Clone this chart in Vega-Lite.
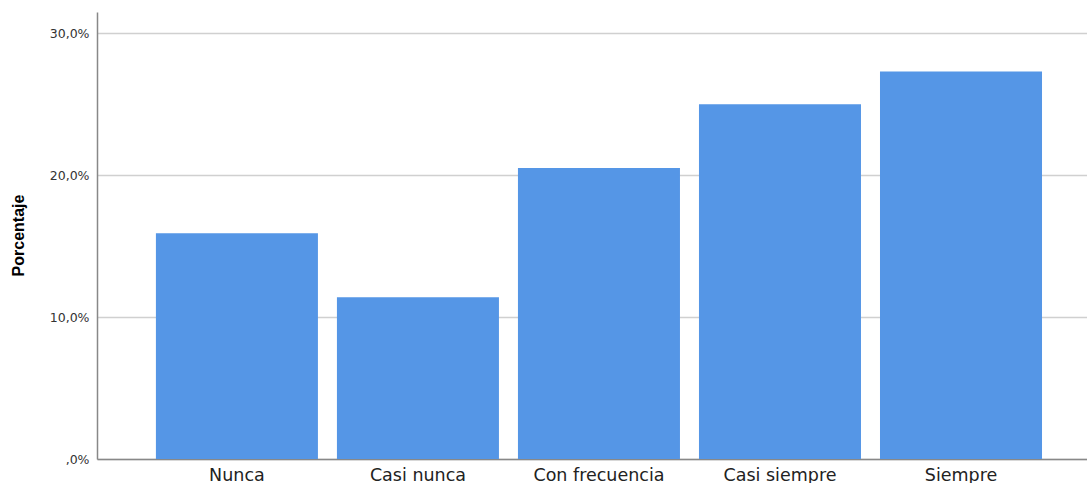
{
  "$schema": "https://vega.github.io/schema/vega-lite/v6.json",
  "autosize": "none",
  "width": 990,
  "height": 447,
  "padding": {"left": 97, "top": 12, "right": 0, "bottom": 24},
  "background": "white",
  "data": {"values": [
    {"categoria": "Nunca", "porcentaje": 15.9},
    {"categoria": "Casi nunca", "porcentaje": 11.4},
    {"categoria": "Con frecuencia", "porcentaje": 20.5},
    {"categoria": "Casi siempre", "porcentaje": 25.0},
    {"categoria": "Siempre", "porcentaje": 27.3}
  ]},
  "config": {"view": {"stroke": null}},
  "mark": {"type": "bar", "color": "#5596e6"},
  "encoding": {
    "x": {
      "field": "categoria", "type": "nominal", "sort": null,
      "scale": {"paddingInner": 0.105, "paddingOuter": 0.287, "align": 0.567},
      "axis": {
        "title": null, "labelAngle": 0, "ticks": false,
        "labelFont": "DejaVu Sans", "labelFontSize": 17.5, "labelColor": "#222222",
        "labelPadding": 7, "domainColor": "#888888", "domainWidth": 1.5
      }
    },
    "y": {
      "field": "porcentaje", "type": "quantitative",
      "scale": {"domain": [0, 31.5], "nice": false},
      "axis": {
        "title": "Porcentaje", "values": [0, 10, 20, 30],
        "labelExpr": "datum.value == 0 ? ',0%' : replace(format(datum.value, '.1f'), '.', ',') + '%'",
        "ticks": false, "labelPadding": 8,
        "labelFont": "DejaVu Sans", "labelFontSize": 12.5, "labelColor": "#333333",
        "grid": true, "gridColor": "#d0d0d0", "gridWidth": 1.5,
        "domainColor": "#888888", "domainWidth": 1.5,
        "titleFont": "Liberation Sans", "titleFontSize": 16, "titleFontWeight": "bold",
        "titleColor": "#000000", "titleAngle": -90, "titleX": -79, "titleY": 223,
        "titleAlign": "center", "titleBaseline": "middle"
      }
    }
  }
}
